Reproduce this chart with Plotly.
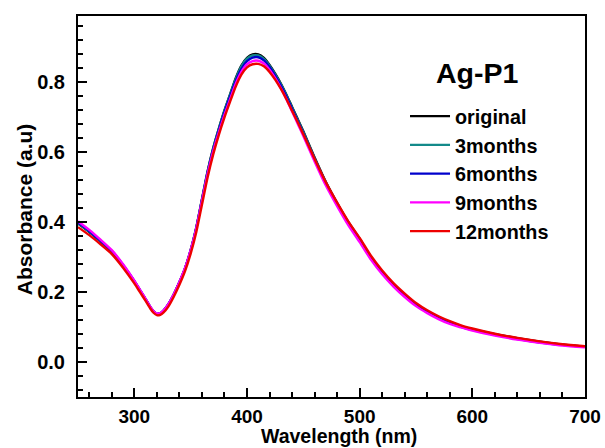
import plotly.graph_objects as go

wavelength = [250, 260, 270, 280, 290, 300, 305, 310, 314, 317, 320, 323, 326, 330, 335, 340, 345,
              350, 355, 360, 365, 370, 375, 380, 385, 390, 395, 400, 405, 410, 415, 420,
              425, 430, 435, 440, 445, 450, 460, 470, 480, 490, 500, 510, 520, 530, 540,
              550, 560, 570, 580, 590, 600, 620, 640, 660, 680, 700]

original = [0.396, 0.372, 0.345, 0.316, 0.276, 0.230, 0.205, 0.179, 0.158, 0.145, 0.138, 0.139, 0.147, 0.164, 0.193, 0.228, 0.268,
            0.320, 0.385, 0.465, 0.545, 0.612, 0.668, 0.720, 0.766, 0.812, 0.848, 0.870, 0.880, 0.880, 0.870, 0.850,
            0.825, 0.797, 0.765, 0.730, 0.695, 0.660, 0.585, 0.515, 0.455, 0.400, 0.352, 0.300, 0.258, 0.222, 0.192,
            0.165, 0.145, 0.128, 0.114, 0.103, 0.094, 0.080, 0.068, 0.058, 0.050, 0.044]

months3 = [0.397, 0.373, 0.346, 0.317, 0.277, 0.231, 0.206, 0.180, 0.158, 0.145, 0.138, 0.139, 0.147, 0.164, 0.193, 0.228, 0.268,
           0.320, 0.384, 0.464, 0.544, 0.611, 0.667, 0.719, 0.765, 0.810, 0.846, 0.868, 0.877, 0.877, 0.867, 0.848,
           0.823, 0.795, 0.763, 0.728, 0.693, 0.658, 0.583, 0.513, 0.453, 0.398, 0.350, 0.298, 0.256, 0.221, 0.191,
           0.164, 0.144, 0.127, 0.113, 0.102, 0.093, 0.079, 0.067, 0.057, 0.049, 0.044]

months6 = [0.399, 0.375, 0.347, 0.318, 0.278, 0.232, 0.206, 0.180, 0.158, 0.145, 0.138, 0.139, 0.147, 0.164, 0.193, 0.228, 0.268,
           0.319, 0.383, 0.462, 0.541, 0.607, 0.663, 0.714, 0.760, 0.804, 0.839, 0.861, 0.871, 0.872, 0.863, 0.844,
           0.819, 0.791, 0.759, 0.724, 0.689, 0.654, 0.580, 0.511, 0.451, 0.396, 0.348, 0.297, 0.255, 0.220, 0.190,
           0.163, 0.143, 0.126, 0.112, 0.101, 0.092, 0.078, 0.066, 0.056, 0.049, 0.044]

months9 = [0.403, 0.378, 0.350, 0.320, 0.280, 0.233, 0.207, 0.181, 0.159, 0.146, 0.139, 0.140, 0.148, 0.165, 0.194, 0.229, 0.269,
           0.320, 0.383, 0.461, 0.538, 0.603, 0.657, 0.707, 0.752, 0.796, 0.830, 0.852, 0.861, 0.862, 0.854, 0.836,
           0.812, 0.784, 0.752, 0.717, 0.682, 0.647, 0.574, 0.505, 0.446, 0.391, 0.343, 0.293, 0.251, 0.216, 0.186,
           0.160, 0.140, 0.123, 0.109, 0.099, 0.090, 0.076, 0.064, 0.055, 0.047, 0.042]

months12 = [0.386, 0.363, 0.337, 0.309, 0.270, 0.225, 0.200, 0.175, 0.154, 0.141, 0.134, 0.135, 0.142, 0.158, 0.187, 0.221, 0.260,
            0.310, 0.372, 0.450, 0.528, 0.594, 0.650, 0.700, 0.745, 0.788, 0.822, 0.843, 0.852, 0.853, 0.846, 0.830,
            0.808, 0.782, 0.752, 0.719, 0.686, 0.652, 0.581, 0.514, 0.456, 0.402, 0.355, 0.304, 0.262, 0.226, 0.196,
            0.169, 0.148, 0.131, 0.117, 0.105, 0.096, 0.081, 0.069, 0.059, 0.051, 0.045]

series_names = ["original", "3months", "6months", "9months", "12months"]
series_values = [original, months3, months6, months9, months12]
series_colors = ["#000000", "#138a8a", "#0000cc", "#ff00ff", "#ee0000"]

x_ticks = [300, 400, 500, 600, 700]
y_ticks = [0.0, 0.2, 0.4, 0.6, 0.8]

FONT = "Liberation Sans, Arial, sans-serif"

fig = go.Figure()
for name, vals, col in zip(series_names, series_values, series_colors):
    fig.add_trace(go.Scatter(
        x=wavelength, y=vals, mode="lines", name=name,
        line=dict(color=col, width=2.4, shape="spline", smoothing=0.6),
    ))

fig.update_layout(
    width=605, height=448,
    margin=dict(l=78, r=20, t=16, b=51),
    paper_bgcolor="white", plot_bgcolor="white",
    font=dict(family=FONT, color="black"),
    showlegend=True,
    legend=dict(
        x=0.645, y=0.788, xanchor="left", yanchor="top",
        bgcolor="rgba(0,0,0,0)", borderwidth=0,
        font=dict(family=FONT, size=19.8, weight="bold", color="black"),
        itemwidth=40, tracegroupgap=0,
    ),
    annotations=[
        dict(text="<b>Ag-P1</b>", x=0.787, y=0.85, xref="paper", yref="paper",
             showarrow=False, font=dict(family=FONT, size=28.5, color="black"),
             xanchor="center", yanchor="middle"),
        dict(text="<b>Wavelength (nm)</b>", x=0.515, y=-0.103, xref="paper", yref="paper",
             showarrow=False, font=dict(family=FONT, size=19.5, color="black"),
             xanchor="center", yanchor="middle"),
        dict(text="<b>Absorbance (a.u)</b>", x=-0.1065, y=0.493, xref="paper", yref="paper",
             showarrow=False, textangle=-90, font=dict(family=FONT, size=21, color="black"),
             xanchor="center", yanchor="middle"),
    ],
)

fig.update_xaxes(
    range=[250, 700], tickvals=x_ticks, ticktext=[str(v) for v in x_ticks],
    showgrid=False, zeroline=False, automargin=False,
    showline=True, linecolor="black", linewidth=2, mirror=True,
    ticks="inside", ticklen=9, tickwidth=2, tickcolor="black",
    minor=dict(dtick=20, tick0=0, ticks="inside", ticklen=5, tickwidth=1.5, tickcolor="black", showgrid=False),
    tickfont=dict(family=FONT, size=19, weight="bold", color="black"),
    ticklabelstandoff=1,
)

fig.update_yaxes(
    range=[-0.1, 0.99], tickvals=y_ticks, ticktext=["%.1f" % v for v in y_ticks],
    showgrid=False, zeroline=False, automargin=False,
    showline=True, linecolor="black", linewidth=2, mirror=True,
    ticks="inside", ticklen=9, tickwidth=2, tickcolor="black",
    minor=dict(dtick=0.04, tick0=0, ticks="inside", ticklen=5, tickwidth=1.5, tickcolor="black", showgrid=False),
    tickfont=dict(family=FONT, size=20, weight="bold", color="black"),
    ticklabelstandoff=7,
)

fig.write_html(
    "out.html",
    config={"displayModeBar": False},
    post_script="document.body.style.margin='0px';document.body.style.overflow='hidden';",
)
